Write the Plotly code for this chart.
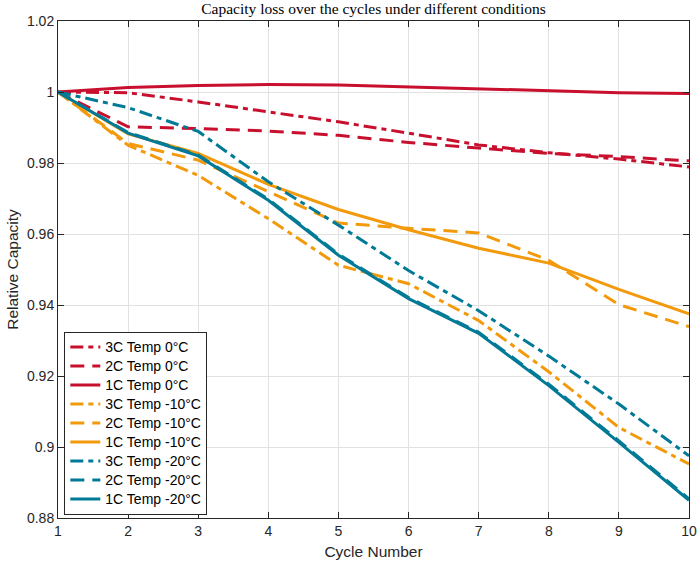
import plotly.graph_objects as go

cycles = [1, 2, 3, 4, 5, 6, 7, 8, 9, 10]

c3_t0 = [1.0, 0.9998, 0.9972, 0.9944, 0.9916, 0.9884, 0.9851, 0.9829, 0.9811, 0.9789]
c2_t0 = [1.0, 0.9902, 0.9897, 0.9890, 0.9878, 0.9858, 0.9842, 0.9827, 0.9818, 0.9806]
c1_t0 = [1.0, 1.0013, 1.0018, 1.0021, 1.0020, 1.0014, 1.0008, 1.0002, 0.9998, 0.9996]

c3_tm10 = [1.0, 0.9850, 0.9765, 0.9643, 0.9512, 0.9460, 0.9356, 0.9212, 0.9055, 0.8952]
c2_tm10 = [1.0, 0.9855, 0.9808, 0.9720, 0.9631, 0.9616, 0.9603, 0.9526, 0.9401, 0.9339]
c1_tm10 = [1.0, 0.9882, 0.9827, 0.9740, 0.9669, 0.9612, 0.9560, 0.9518, 0.9444, 0.9375]

c3_tm20 = [1.0, 0.9956, 0.9889, 0.9747, 0.9625, 0.9497, 0.9384, 0.9256, 0.9121, 0.8975]
c2_tm20 = [1.0, 0.9886, 0.9822, 0.9698, 0.9543, 0.9421, 0.9323, 0.9177, 0.9017, 0.8854]
c1_tm20 = [1.0, 0.9884, 0.9820, 0.9695, 0.9540, 0.9418, 0.9320, 0.9173, 0.9013, 0.8850]

names = ["3C Temp 0°C", "2C Temp 0°C", "1C Temp 0°C",
         "3C Temp -10°C", "2C Temp -10°C", "1C Temp -10°C",
         "3C Temp -20°C", "2C Temp -20°C", "1C Temp -20°C"]
series = [c3_t0, c2_t0, c1_t0, c3_tm10, c2_tm10, c1_tm10, c3_tm20, c2_tm20, c1_tm20]

RED, ORANGE, TEAL = "#C8102E", "#F39A0C", "#007A96"
colors = [RED, RED, RED, ORANGE, ORANGE, ORANGE, TEAL, TEAL, TEAL]
DASHDOT = "13px,5px,5px,5px"
DASHED = "14px,8px"
dashes = [DASHDOT, DASHED, "solid"] * 3

ytick_vals = [0.88, 0.90, 0.92, 0.94, 0.96, 0.98, 1.00, 1.02]
ytick_text = ["0.88", "0.9", "0.92", "0.94", "0.96", "0.98", "1", "1.02"]

fig = go.Figure()
for name, ys, col, dsh in zip(names, series, colors, dashes):
    fig.add_trace(go.Scatter(x=cycles, y=ys, mode="lines",
                             name="<span style='font-size:14px'>" + name + "</span>",
                             line=dict(color=col, width=3, dash=dsh)))

axis_common = dict(showline=True, linecolor="#262626", linewidth=1, mirror="ticks",
                   ticks="inside", ticklen=6, tickcolor="#262626", automargin=False,
                   showgrid=True, gridcolor="#e2e2e2", gridwidth=1, zeroline=False,
                   tickfont=dict(family="Liberation Sans, Arial, sans-serif", size=14, color="#262626"))

fig.update_layout(
    width=698, height=565,
    margin=dict(l=58, r=9, t=21, b=47),
    paper_bgcolor="white", plot_bgcolor="white",
    title=dict(text="Capacity loss over the cycles under different conditions",
               x=(58 + 689) / 2 / 698, xanchor="center", y=1 - 9 / 565, yanchor="middle",
               font=dict(family="Liberation Serif, Times New Roman, serif", size=15.5, color="black")),
    xaxis=dict(range=[1, 10], tickvals=cycles, ticktext=[str(c) for c in cycles],
               title=dict(text="Cycle Number", standoff=8,
                          font=dict(family="Liberation Sans, Arial, sans-serif", size=15.5, color="#262626")),
               **axis_common),
    yaxis=dict(range=[0.88, 1.02], tickvals=ytick_vals, ticktext=ytick_text,
               title=dict(text="Relative Capacity", standoff=4,
                          font=dict(family="Liberation Sans, Arial, sans-serif", size=15.5, color="#262626")),
               **axis_common),
    legend=dict(x=0.01, y=0.007, xanchor="left", yanchor="bottom",
                bgcolor="white", bordercolor="#262626", borderwidth=1,
                font=dict(family="Liberation Sans, Arial, sans-serif", size=12.3, color="black"),
                tracegroupgap=0, itemwidth=30),
    showlegend=True,
)

fig.write_html("out.html")
